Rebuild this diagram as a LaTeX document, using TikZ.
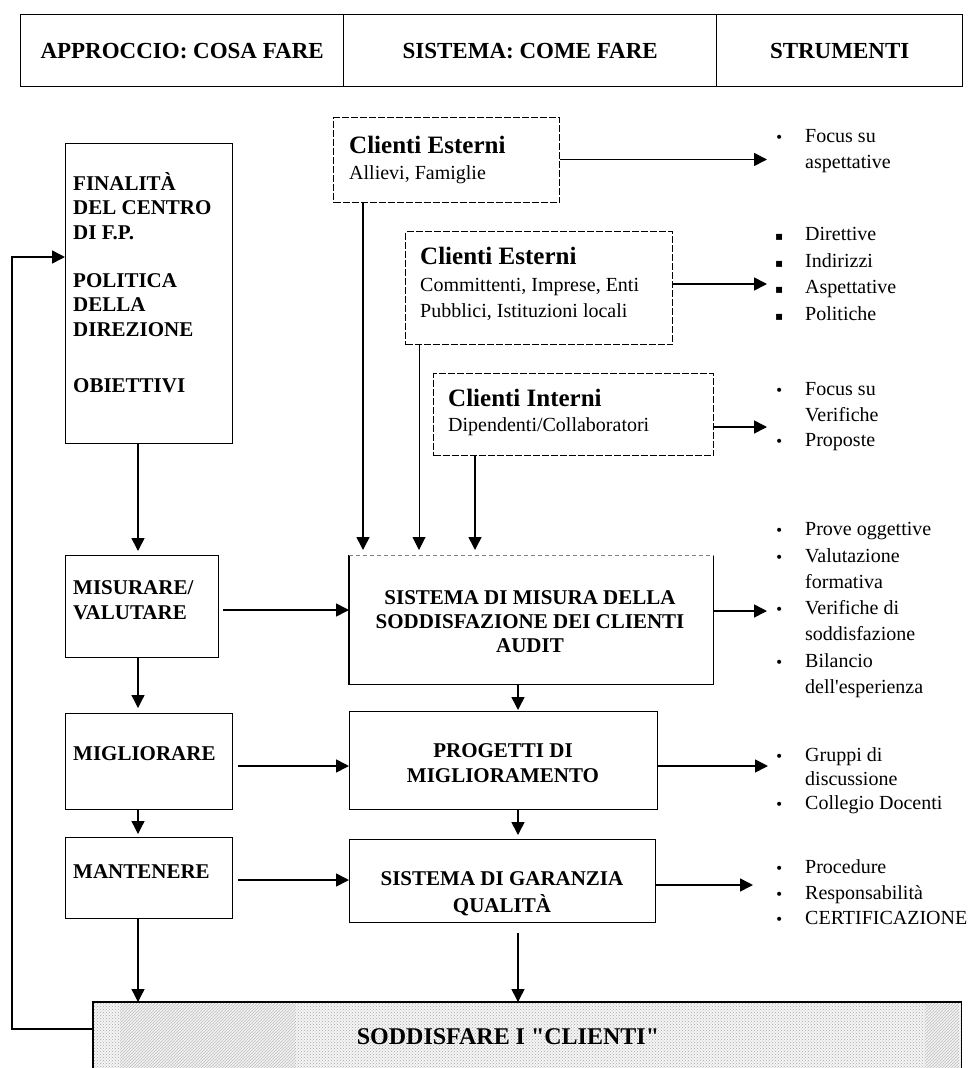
\documentclass[tikz,border=0pt]{standalone}
\usepackage{fontspec}
\setmainfont{Liberation Serif}
\newfontfamily\rawserif[Ligatures=TeXOff]{Liberation Serif}
\newfontfamily\symfont{DejaVu Sans}
\usetikzlibrary{arrows.meta,patterns}

% bullet markers for the lists on the right
\newcommand{\bul}{\makebox[30pt][l]{\symfont\fontsize{14}{14}\selectfont •}}
\newcommand{\sqb}{\makebox[30pt][l]{\symfont\fontsize{12}{12}\selectfont ▪}}
\newcommand{\nob}{\makebox[30pt][l]{}}

\tikzset{
  frame/.style={draw, line width=1.3pt, inner sep=0pt, anchor=north west},
  cbox/.style={draw, line width=1pt, dash pattern=on 7pt off 2pt, inner sep=0pt, anchor=north west},
  hlbl/.style={font=\fontsize{23}{26}\selectfont\bfseries},
  % multi-line labels are placed by the baseline of their last line
  lbl/.style={font=\fontsize{21}{24.5}\selectfont\bfseries, inner sep=0pt, align=left, anchor=base west},
  clbl/.style={font=\fontsize{21}{24}\selectfont\bfseries, inner sep=0pt, align=center, anchor=base},
  chead/.style={font=\fontsize{25}{28}\selectfont\bfseries, inner sep=0pt, anchor=base west},
  body/.style={font=\fontsize{20}{26}\selectfont, inner sep=0pt, align=left, anchor=base west},
  arr/.style={line width=1.6pt, -{Triangle[length=13pt,width=13pt]}},
}

\begin{document}
\begin{tikzpicture}[x=1pt,y=-1pt]
\useasboundingbox (0,0) rectangle (967,1068);

% ---- header row
\node[frame, minimum width=323pt, minimum height=72pt, hlbl] (hd1) at (20,14) {APPROCCIO: COSA FARE};
\node[frame, minimum width=373pt, minimum height=72pt, hlbl] (hd2) at (343,14) {SISTEMA: COME FARE};
\node[frame, minimum width=246pt, minimum height=72pt, hlbl] (hd3) at (716,14) {STRUMENTI};

% ---- left column: approach
\node[frame, minimum width=167pt, minimum height=300pt] (fin) at (65,143) {};
\node[lbl] (fin-t) at (73,392) {FINALITÀ\\DEL CENTRO\\DI F.P.\\[23.5pt]POLITICA\\DELLA\\DIREZIONE\\[31.5pt]OBIETTIVI};
\node[frame, minimum width=153pt, minimum height=102pt] (mis) at (65,555) {};
\node[lbl] (mis-t) at (73,619) {MISURARE/\\VALUTARE};
\node[frame, minimum width=167pt, minimum height=96pt] (mig) at (65,713) {};
\node[lbl] (mig-t) at (73,760) {MIGLIORARE};
\node[frame, minimum width=167pt, minimum height=81pt] (man) at (65,837) {};
\node[lbl] (man-t) at (73,878) {MANTENERE};

% ---- client boxes
\node[cbox, minimum width=226pt, minimum height=85pt] (ce1) at (333,117) {};
\node[chead] (ce1-h) at (349,153) {Clienti Esterni};
\node[body] (ce1-b) at (349,179) {Allievi, Famiglie};
\node[cbox, minimum width=267pt, minimum height=113pt] (ce2) at (405,231) {};
\node[chead] (ce2-h) at (420,264) {Clienti Esterni};
\node[body] (ce2-b) at (420,317) {Committenti, Imprese, Enti\\Pubblici, Istituzioni locali};
\node[cbox, minimum width=280pt, minimum height=82pt] (ci) at (433,373) {};
\node[chead] (ci-h) at (448,406) {Clienti Interni};
\node[body] (ci-b) at (448,431) {Dipendenti/Collaboratori};

% ---- middle column: system
\node[frame, draw=none, minimum width=363pt, minimum height=128pt] (sis) at (349,555) {};
\draw[line width=1.3pt] (sis.north west) -- (sis.south west) -- (sis.south east) -- (sis.north east);
\draw[line width=0.8pt, gray, dash pattern=on 4pt off 3pt] (sis.north west) -- (sis.north east);
\node[clbl] (sis-t) at (530,652) {SISTEMA DI MISURA DELLA\\SODDISFAZIONE DEI CLIENTI\\AUDIT};
\node[frame, minimum width=308pt, minimum height=98pt] (prog) at (349,711) {};
\node[clbl, font=\fontsize{21}{25}\selectfont\bfseries] (prog-t) at (503,782) {PROGETTI DI\\MIGLIORAMENTO};
\node[frame, minimum width=306pt, minimum height=83pt] (gar) at (349,839) {};
\node[clbl, font=\fontsize{21}{27}\selectfont\bfseries] (gar-t) at (502,912) {SISTEMA DI GARANZIA\\QUALITÀ};

% ---- bottom bar with halftone fill
\node[frame, draw=none, minimum width=867pt, minimum height=66pt,
      fill=gray!8, postaction={pattern=crosshatch dots, pattern color=gray!70}] (sod) at (93,1002) {};
\fill[pattern=north east lines, pattern color=gray!45] (120,1004) rectangle (295,1068);
\fill[pattern=north east lines, pattern color=gray!45] (925,1004) rectangle (958,1068);
\draw[line width=1.3pt] (sod.south west) -- (sod.north west) -- (sod.north east) -- (sod.south east);
\node[inner sep=0pt, anchor=base, font=\rawserif\fontsize{24}{28}\selectfont\bfseries] (sod-t) at (508,1044) {SODDISFARE I "CLIENTI"};

% ---- tools lists
\node[body] (s1) at (775,168.5) {\bul Focus su\\\nob aspettative};
\node[body, font=\fontsize{20}{26.7}\selectfont] (s2) at (775,320.5) {\sqb Direttive\\\sqb Indirizzi\\\sqb Aspettative\\\sqb Politiche};
\node[body, font=\fontsize{20}{25.5}\selectfont] (s3) at (775,446.5) {\bul Focus su\\\nob Verifiche\\\bul Proposte};
\node[body, font=\fontsize{20}{26.3}\selectfont] (s4) at (775,693.5) {\bul Prove oggettive\\\bul Valutazione\\\nob formativa\\\bul Verifiche di\\\nob soddisfazione\\\bul Bilancio\\\nob {\rawserif dell'esperienza}};
\node[body, font=\fontsize{20}{24}\selectfont] (s5) at (775,809.5) {\bul Gruppi di\\\nob discussione\\\bul Collegio Docenti};
\node[body, font=\fontsize{20}{25.5}\selectfont] (s6) at (775,924.5) {\bul Procedure\\\bul Responsabilità\\\bul CERTIFICAZIONE};

% ---- connector guides
\coordinate (xa) at (138,0);
\coordinate (xb) at (518,0);
\coordinate (xc1) at (363,0);
\coordinate (xc2) at (419,0);
\coordinate (xc3) at (475,0);
\coordinate (h1) at (0,610);
\coordinate (h2) at (0,766);
\coordinate (h3) at (0,880);
\coordinate (r1) at (767,159.5);
\coordinate (r2) at (767,284);
\coordinate (r3) at (767,427);
\coordinate (r4) at (767,611);
\coordinate (r5) at (768,766);
\coordinate (r6) at (753,885);
\coordinate (fb1) at (12,1029);
\coordinate (fb2) at (12,257);

% left column flow
\draw[arr, shorten >=4pt] (fin.south -| xa) -- (mis.north -| xa);
\draw[arr, line width=1.3pt, shorten >=5pt] (mis.south -| xa) -- (mig.north -| xa);
\draw[arr, line width=1.3pt, shorten >=3pt] (mig.south -| xa) -- (man.north -| xa);
\draw[arr, line width=1.3pt] (man.south -| xa) -- (sod.north -| xa);

% left to middle
\draw[arr, shorten <=4pt] (mis.east |- h1) -- (sis.west |- h1);
\draw[arr, shorten <=5pt] (mig.east |- h2) -- (prog.west |- h2);
\draw[arr, shorten <=5pt] (man.east |- h3) -- (gar.west |- h3);

% middle column flow
\draw[arr, shorten >=1pt] (sis.south -| xb) -- (prog.north -| xb);
\draw[arr, shorten >=4pt] (prog.south -| xb) -- (gar.north -| xb);
\draw[arr, shorten <=10pt] (gar.south -| xb) -- (sod.north -| xb);

% clients into the measuring system
\draw[arr, shorten >=5pt] (ce1.south -| xc1) -- (sis.north -| xc1);
\draw[arr, line width=1pt, shorten >=5pt] (ce2.south -| xc2) -- (sis.north -| xc2);
\draw[arr, shorten >=5pt] (ci.south -| xc3) -- (sis.north -| xc3);

% middle to tools
\draw[arr] (ce1.east |- r1) -- (r1);
\draw[arr] (ce2.east |- r2) -- (r2);
\draw[arr] (ci.east |- r3) -- (r3);
\draw[arr] (sis.east |- r4) -- (r4);
\draw[arr] (prog.east |- r5) -- (r5);
\draw[arr] (gar.east |- r6) -- (r6);

% feedback loop
\draw[arr] (sod.west |- fb1) -- (fb1) -- (fb2) -- (fin.west |- fb2);
\end{tikzpicture}
\end{document}
